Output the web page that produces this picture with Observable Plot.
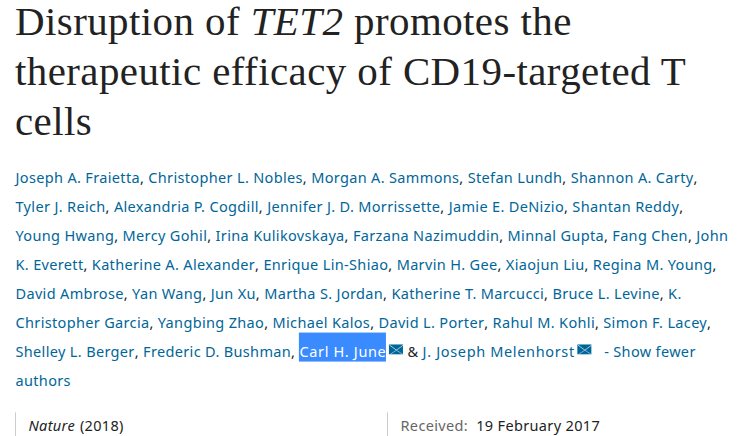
<!DOCTYPE html>
<html>
<head>
<meta charset="utf-8">
<script src="https://cdn.jsdelivr.net/npm/d3@7"></script>
<script src="https://cdn.jsdelivr.net/npm/@observablehq/plot@0.6"></script>
<style>
html,body{margin:0;padding:0;background:#fff;overflow:hidden}
#title{margin:0;padding:0 0 0 15px;height:150px;box-sizing:border-box;font:400 39px/50px "Liberation Serif",serif;letter-spacing:.4px;color:#222;position:relative;top:-3.3px;transform:scaleX(1.05);transform-origin:15px 0}
#chart svg{display:block}
.wide{letter-spacing:.65px}
</style>
</head>
<body>
<h1 id="title">Disruption of <i>TET2</i> promotes the<br>therapeutic efficacy of CD19-targeted T<br>cells</h1>
<div id="chart"></div>
<script>
const authorLines = [
  "Joseph A. Fraietta, Christopher L. Nobles, Morgan A. Sammons, Stefan Lundh, Shannon A. Carty,",
  "Tyler J. Reich, Alexandria P. Cogdill, Jennifer J. D. Morrissette, Jamie E. DeNizio, Shantan Reddy,",
  "Young Hwang, Mercy Gohil, Irina Kulikovskaya, Farzana Nazimuddin, Minnal Gupta, Fang Chen, John",
  "K. Everett, Katherine A. Alexander, Enrique Lin-Shiao, Marvin H. Gee, Xiaojun Liu, Regina M. Young,",
  "David Ambrose, Yan Wang, Jun Xu, Martha S. Jordan, Katherine T. Marcucci, Bruce L. Levine, K.",
  "Christopher Garcia, Yangbing Zhao, Michael Kalos, David L. Porter, Rahul M. Kohli, Simon F. Lacey,",
  "Shelley L. Berger, Frederic D. Bushman, [Carl H. June]{} & <J. Joseph Melenhorst>{}   - Show fewer",
  "authors"
];
const journal = "Nature";
const year = "(2018)";
const receivedLabel = "Received:";
const receivedDate = "19 February 2017";

const W = 741, H = 286, fontFamily = '"Noto Sans"', fontSize = 14.5, spacing = 0.34, wideSpacing = 0.65;
const left = 15, blue = "#069", dark = "#222", grey = "#666";
const ctx = document.createElement("canvas").getContext("2d");
ctx.font = `${fontSize}px ${fontFamily}`;
const tw = (s, ls = spacing) => { ctx.letterSpacing = ls + "px"; return ctx.measureText(s).width; };

const tokens = [], wideTokens = [], highlights = [], icons = [];
authorLines.forEach((str, line) => {
  let x = left;
  for (const part of str.split(/(,|&|\[[^\]]*\]|<[^>]*>|\{\})/).filter(p => p !== "")) {
    if (part === "{}") {
      icons.push({line, x1: x + 3, x2: x + 17});
      x += 17;
      continue;
    }
    const selected = part[0] === "[";
    const wide = selected || part[0] === "<";
    const raw = wide ? part.slice(1, -1) : part;
    const ls = wide ? wideSpacing : spacing;
    const lead = raw.length - raw.trimStart().length;
    const x0 = x + tw(raw.slice(0, lead), ls);
    const w = tw(raw.trim(), ls);
    if (raw.trim()) (wide ? wideTokens : tokens).push({line, x: x0, text: raw.trim(),
      fill: selected ? "#fff" : (raw === "," || raw === "&") ? dark : blue});
    if (selected) highlights.push({line, x1: x0, x2: x0 + w});
    x += tw(raw, ls);
  }
});

const footerRow = 8.53;
const rec = {x: 400};
const mid = d => (d.x1 + d.x2) / 2;
const iconTop = d => d.line - 0.26, iconBottom = d => d.line + 0.08, iconMid = d => d.line - 0.08;
const plot = Plot.plot({
  width: W, height: H, margin: 0,
  x: {domain: [0, W], range: [0, W], axis: null},
  y: {domain: [-28 / 29, (H - 28) / 29], range: [0, H], axis: null},
  style: {fontFamily, fontSize: fontSize + "px", letterSpacing: spacing + "px", background: "#fff"},
  marks: [
    Plot.rect(highlights, {x1: "x1", x2: "x2", y1: d => d.line - 0.67, y2: d => d.line + 0.33, fill: "#3a8bff"}),
    Plot.text(tokens, {x: "x", y: "line", text: "text", fill: "fill", textAnchor: "start", fontSize}),
    Plot.text(wideTokens, {x: "x", y: "line", text: "text", fill: "fill", textAnchor: "start", fontSize, className: "wide"}),
    Plot.rect(icons, {x1: "x1", x2: "x2", y1: iconTop, y2: iconBottom, fill: blue}),
    Plot.link(icons, {x1: "x1", x2: mid, y1: iconTop, y2: iconMid, stroke: "#cfe3ee", strokeWidth: 0.8}),
    Plot.link(icons, {x1: "x2", x2: mid, y1: iconTop, y2: iconMid, stroke: "#cfe3ee", strokeWidth: 0.8}),
    Plot.link(icons, {x1: "x1", x2: mid, y1: iconBottom, y2: iconMid, stroke: "#cfe3ee", strokeWidth: 0.6}),
    Plot.link(icons, {x1: "x2", x2: mid, y1: iconBottom, y2: iconMid, stroke: "#cfe3ee", strokeWidth: 0.6}),
    Plot.ruleX([left, 387], {y1: footerRow - 0.45, y2: footerRow + 0.5, stroke: "#ccc", strokeWidth: 1}),
    Plot.text([journal], {x: 28, y: footerRow, textAnchor: "start", fill: dark, fontStyle: "italic", fontSize}),
    Plot.text([year], {x: 26 + tw(journal + " "), y: footerRow, textAnchor: "start", fill: dark, fontSize}),
    Plot.text([receivedLabel], {x: rec.x, y: footerRow, textAnchor: "start", fill: grey, fontSize}),
    Plot.text([receivedDate], {x: rec.x + tw(receivedLabel + "  "), y: footerRow, textAnchor: "start", fill: dark, fontSize})
  ]
});
document.getElementById("chart").append(plot);
</script>
</body>
</html>
